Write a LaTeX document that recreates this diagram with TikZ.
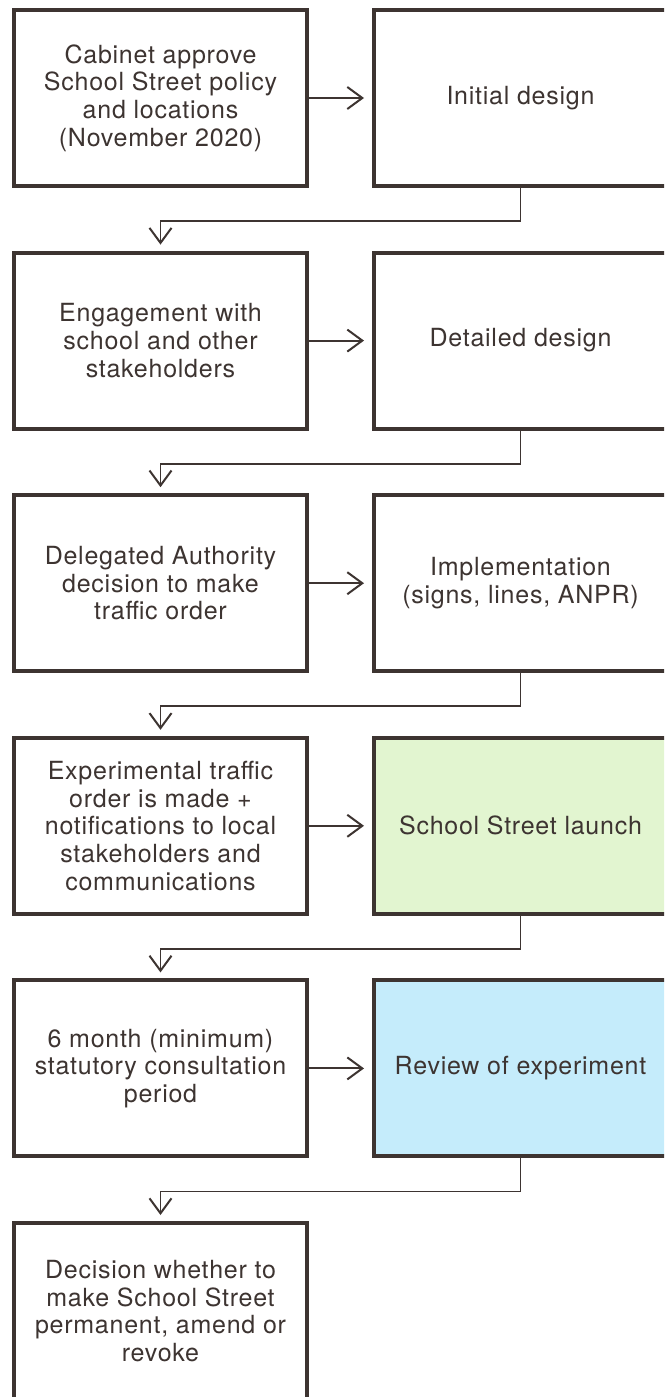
\documentclass[tikz,border=0pt]{standalone}
\usepackage{fontspec}
\setmainfont{TeX Gyre Heros}[LetterSpace=3]
\usetikzlibrary{arrows.meta,calc}
\definecolor{ink}{HTML}{3D3431}
\definecolor{launchgreen}{HTML}{E2F5D0}
\definecolor{reviewblue}{HTML}{C5ECFB}
\tikzset{
  box/.style={draw=ink, line width=4pt, rectangle, minimum width=293pt, minimum height=176pt,
    inner sep=0pt, align=center, text=ink, font=\fontsize{25}{27.7}\selectfont, fill=white},
  arr/.style={draw=ink, line width=2pt, -{Straight Barb[length=15pt,width=22pt,line width=2pt]}},
  link/.style={arr, line width=1.8pt},
}
\begin{document}
\begin{tikzpicture}[x=1pt,y=-1pt]
\useasboundingbox (0,0) rectangle (664,1397);
\clip (0,0) rectangle (664,1397);
\fill[white] (0,0) rectangle (664,1397);
\node[box] (L1) at (160.5,98) {Cabinet approve\\School Street policy\\and locations\\(November 2020)};
\node[box] (R1) at (520.5,98) {Initial design};
\node[box] (L2) at (160.5,340.6) {Engagement with\\school and other\\stakeholders};
\node[box] (R2) at (520.5,340.6) {Detailed design};
\node[box] (L3) at (160.5,583.2) {Delegated Authority\\decision to make\\traffic order};
\node[box] (R3) at (520.5,583.2) {Implementation\\(signs, lines, ANPR)};
\node[box] (L4) at (160.5,825.8) {Experimental traffic\\order is made +\\notifications to local\\stakeholders and\\communications};
\node[box, fill=launchgreen] (R4) at (520.5,825.8) {School Street launch};
\node[box] (L5) at (160.5,1068.4) {6 month (minimum)\\statutory consultation\\period};
\node[box, fill=reviewblue] (R5) at (520.5,1068.4) {Review of experiment};
\node[box] (L6) at (160.5,1311) {Decision whether to\\make School Street\\permanent, amend or\\revoke};
\foreach \i in {1,...,5}{
  \draw[arr, shorten >=8pt] (L\i.east) -- (R\i.west);
}
\foreach \i [evaluate=\i as \j using int(\i+1)] in {1,...,5}{
  \coordinate (m\i) at ($(R\i.south)+(0,33)$);
  \draw[link, shorten >=6pt] (R\i.south) -- (m\i) -| (L\j.north);
}
\end{tikzpicture}
\end{document}
